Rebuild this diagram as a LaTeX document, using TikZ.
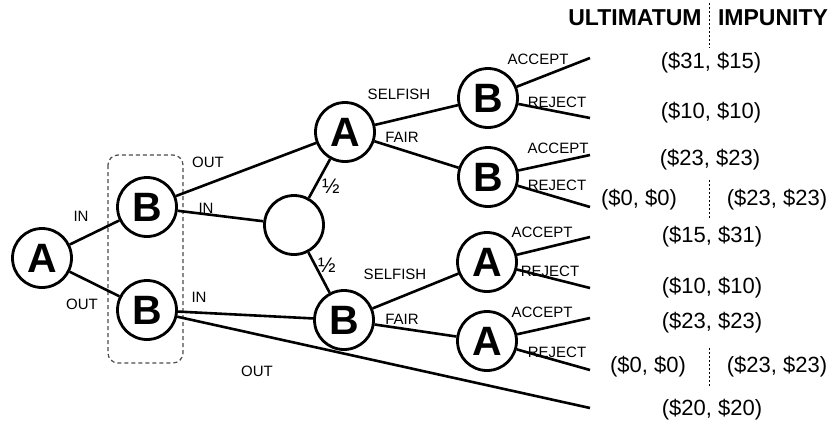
\documentclass[tikz,border=0pt]{standalone}
\usepackage{fontspec}
\setmainfont{Liberation Sans}
\usetikzlibrary{positioning}
\tikzset{%
    player/.style={draw,circle,line width=2.8pt,minimum size=59pt,inner sep=0pt,
        font=\fontsize{41}{41}\selectfont\bfseries},
    move/.style={line width=2.6pt},
    lbl/.style={inner sep=0pt,font=\fontsize{15}{15}\selectfont},
    half/.style={inner sep=0pt,font=\fontsize{21}{21}\selectfont},
    pay/.style={inner sep=0pt,font=\fontsize{22}{22}\selectfont},
    game/.style={inner sep=0pt,font=\fontsize{23}{23}\selectfont\bfseries},
    split/.style={line width=0.8pt,dash pattern=on 2pt off 2pt}
}

\begin{document}
\begin{tikzpicture}[x=1pt,y=-1pt]
\useasboundingbox (0,0) rectangle (835,423);

\draw[line width=1.2pt,black!70,dash pattern=on 4pt off 3pt,rounded corners=10pt] (108,155) rectangle (183,363);

\node[player] (rootA) at (42,258) {A};
\node[player] (inB) at (147,207) {B};
\node[player] (outB) at (147,310) {B};
\node[player] (luck) at (294,225) {};
\node[player] (midA) at (345,132) {A};
\node[player] (midB) at (344,320) {B};
\node[player] (selB) at (488,98) {B};
\node[player] (fairB) at (488,177) {B};
\node[player] (selA) at (487,262) {A};
\node[player] (fairA) at (487,341) {A};

\coordinate (t1) at (590,58);
\coordinate (t2) at (590,118);
\coordinate (t3) at (590,155);
\coordinate (t4) at (590,207);
\coordinate (t5) at (590,237);
\coordinate (t6) at (590,288);
\coordinate (t7) at (590,318);
\coordinate (t8) at (590,370);
\coordinate (t9) at (590,408);

\draw[move] (rootA) -- (inB);
\draw[move] (rootA) -- (outB);
\draw[move] (inB) -- (midA);
\draw[move] (inB) -- (luck);
\draw[move] (luck) -- (midA);
\draw[move] (luck) -- (midB);
\draw[move] (outB) -- (midB);
\draw[move] (outB) -- (t9);
\draw[move] (midA) -- (selB);
\draw[move] (midA) -- (fairB);
\draw[move] (midB) -- (selA);
\draw[move] (midB) -- (fairA);
\draw[move] (selB) -- (t1);
\draw[move] (selB) -- (t2);
\draw[move] (fairB) -- (t3);
\draw[move] (fairB) -- (t4);
\draw[move] (selA) -- (t5);
\draw[move] (selA) -- (t6);
\draw[move] (fairA) -- (t7);
\draw[move] (fairA) -- (t8);

\node[lbl] (l1) at (81,216) {IN};
\node[lbl] (l2) at (82,304) {OUT};
\node[lbl] (l3) at (208,162) {OUT};
\node[lbl] (l4) at (206,208) {IN};
\node[lbl] (l5) at (199,297) {IN};
\node[lbl] (l6) at (257,371) {OUT};
\node[half] (l7) at (331,186) {½};
\node[half] (l8) at (327,265) {½};
\node[lbl] (l9) at (399,94) {SELFISH};
\node[lbl] (l10) at (402,137) {FAIR};
\node[lbl] (l11) at (395,274) {SELFISH};
\node[lbl] (l12) at (402,319) {FAIR};
\node[lbl] (l13) at (538,59) {ACCEPT};
\node[lbl] (l14) at (557,102) {REJECT};
\node[lbl] (l15) at (558,148) {ACCEPT};
\node[lbl] (l16) at (557,185) {REJECT};
\node[lbl] (l17) at (542,232) {ACCEPT};
\node[lbl] (l18) at (550,271) {REJECT};
\node[lbl] (l19) at (542,312) {ACCEPT};
\node[lbl] (l20) at (557,352) {REJECT};

\node[game] (ult) at (635,18) {ULTIMATUM};
\node[game] (imp) at (773,18) {IMPUNITY};
\draw[split] (709,3) -- (709,48);
\draw[split] (709,180) -- (709,218);
\draw[split] (709,348) -- (709,387);

\node[pay] (p1) at (711,63) {(\$31, \$15)};
\node[pay] (p2) at (711,113) {(\$10, \$10)};
\node[pay] (p3) at (710,160) {(\$23, \$23)};
\node[pay] (p4) at (639,200) {(\$0, \$0)};
\node[pay] (p4i) at (777,200) {(\$23, \$23)};
\node[pay] (p5) at (712,237) {(\$15, \$31)};
\node[pay] (p6) at (712,288) {(\$10, \$10)};
\node[pay] (p7) at (712,323) {(\$23, \$23)};
\node[pay] (p8) at (648,367) {(\$0, \$0)};
\node[pay] (p8i) at (777,367) {(\$23, \$23)};
\node[pay] (p9) at (712,410) {(\$20, \$20)};
\end{tikzpicture}
\end{document}
